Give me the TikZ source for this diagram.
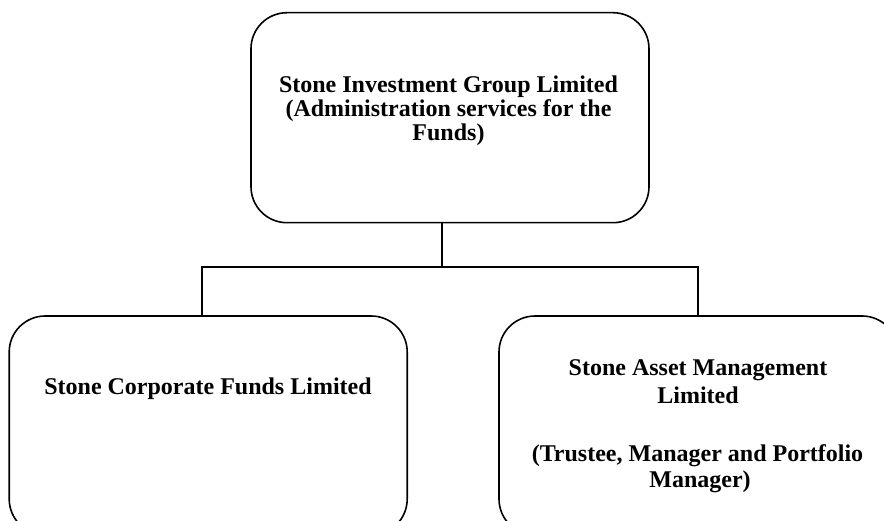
\documentclass[tikz,border=0pt]{standalone}
\usepackage{fontspec}
\setmainfont{Liberation Serif}
\begin{document}
\begin{tikzpicture}[x=1pt,y=-1pt,
  orgbox/.style={draw=black, line width=1.6pt, rounded corners=36pt, minimum width=398pt, inner sep=0pt, fill=white},
  orgtext/.style={anchor=base, inner sep=0pt, font=\fontsize{24}{28}\selectfont\bfseries},
  conn/.style={draw=black, line width=1.6pt}]
\useasboundingbox (0,0) rectangle (884,521);
% boxes
\node[orgbox, minimum height=210pt] (top) at (450,117.7) {};
\node[orgbox, minimum height=219pt] (lbox) at (208.2,425.5) {};
\node[orgbox, minimum height=219pt, minimum width=399pt] (rbox) at (698.5,425.5) {};
% texts
\node[orgtext] (t1) at (448.5,92.7) {Stone Investment Group Limited};
\node[orgtext] (t2) at (448.5,116.7) {(Administration services for the};
\node[orgtext] (t3) at (448.5,140.7) {Funds)};
\node[orgtext] (l1) at (208,395) {Stone Corporate Funds Limited};
\node[orgtext] (r1) at (698,376) {Stone Asset Management};
\node[orgtext] (r2) at (698,403.3) {Limited};
\node[orgtext] (r3) at (697.5,461.7) {(Trustee, Manager and Portfolio};
\node[orgtext] (r4) at (700,487.5) {Manager)};
% connectors
\coordinate (j) at (442,267);
\coordinate (lt) at (201.7,267);
\coordinate (rt) at (697.7,267);
\draw[conn] (top.south -| j) -- (j);
\draw[conn, line cap=rect] (lbox.north -| lt) -- (lt) -- (rt) -- (rbox.north -| rt);
\end{tikzpicture}
\end{document}
